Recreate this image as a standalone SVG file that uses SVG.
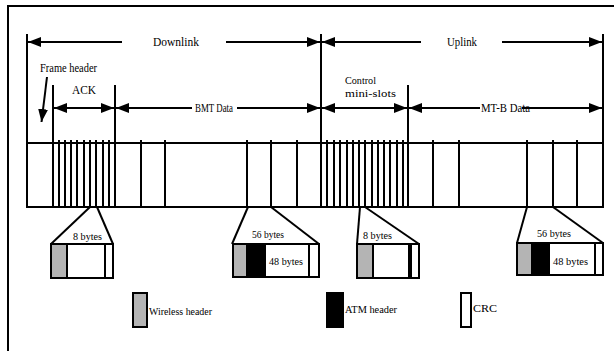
<svg xmlns="http://www.w3.org/2000/svg" width="614" height="351" viewBox="0 0 614 351">
<style>
.ln{stroke:#000;stroke-width:2;fill:none}
.tk{stroke:#000;stroke-width:2}
.bx{stroke:#000;stroke-width:2}
.t{font-family:"Liberation Serif","Times New Roman",serif;fill:#000}
.s12{font-size:12px}
.s11{font-size:11px}
.gray{fill:#b4b4b4}
.blk{fill:#000}
.wht{fill:#fff}
</style>
<defs>
<marker id="ah" markerUnits="userSpaceOnUse" markerWidth="13" markerHeight="10" refX="13" refY="5" orient="auto-start-reverse" viewBox="0 0 13 10">
<path d="M0,0 L13,5 L0,10 z" fill="#000"/>
</marker>
</defs>
<rect x="8" y="6" width="630" height="370" fill="#fff" stroke="#000" stroke-width="2"/>

<g id="frame">
<line class="ln" x1="27" y1="143" x2="603" y2="143"/>
<line class="ln" x1="27" y1="207" x2="603" y2="207"/>
<line class="tk" x1="27" y1="34" x2="27" y2="208"/>
<line class="tk" x1="321" y1="34" x2="321" y2="208"/>
<line class="tk" x1="603" y1="34" x2="603" y2="208"/>
<line class="tk" x1="53" y1="85" x2="53" y2="208"/>
<line class="tk" x1="115" y1="85" x2="115" y2="208"/>
<line class="tk" x1="408" y1="85" x2="408" y2="208"/>
<g class="tk">
<line x1="59" y1="140" x2="59" y2="207"/>
<line x1="65" y1="140" x2="65" y2="207"/>
<line x1="71" y1="140" x2="71" y2="207"/>
<line x1="77" y1="140" x2="77" y2="207"/>
<line x1="84" y1="140" x2="84" y2="207"/>
<line x1="90" y1="140" x2="90" y2="207"/>
<line x1="96" y1="140" x2="96" y2="207"/>
<line x1="103" y1="140" x2="103" y2="207"/>
<line x1="109" y1="140" x2="109" y2="207"/>
<line x1="141" y1="140" x2="141" y2="207"/>
<line x1="165" y1="140" x2="165" y2="207"/>
<line x1="247" y1="140" x2="247" y2="207"/>
<line x1="271" y1="140" x2="271" y2="207"/>
<line x1="297" y1="140" x2="297" y2="207"/>
<line x1="327" y1="140" x2="327" y2="207"/>
<line x1="334" y1="140" x2="334" y2="207"/>
<line x1="340" y1="140" x2="340" y2="207"/>
<line x1="347" y1="140" x2="347" y2="207"/>
<line x1="353" y1="140" x2="353" y2="207"/>
<line x1="359" y1="140" x2="359" y2="207"/>
<line x1="365" y1="140" x2="365" y2="207"/>
<line x1="372" y1="140" x2="372" y2="207"/>
<line x1="378" y1="140" x2="378" y2="207"/>
<line x1="384" y1="140" x2="384" y2="207"/>
<line x1="390" y1="140" x2="390" y2="207"/>
<line x1="397" y1="140" x2="397" y2="207"/>
<line x1="403" y1="140" x2="403" y2="207"/>
<line x1="433" y1="140" x2="433" y2="207"/>
<line x1="459" y1="140" x2="459" y2="207"/>
<line x1="527" y1="140" x2="527" y2="207"/>
<line x1="553" y1="140" x2="553" y2="207"/>
<line x1="577" y1="140" x2="577" y2="207"/>
</g>
</g>

<g id="connectors">
<line class="ln" x1="122" y1="42" x2="28" y2="42" marker-end="url(#ah)"/>
<line class="ln" x1="226" y1="42" x2="320" y2="42" marker-end="url(#ah)"/>
<line class="ln" x1="421" y1="42" x2="322" y2="42" marker-end="url(#ah)"/>
<line class="ln" x1="502" y1="42" x2="602" y2="42" marker-end="url(#ah)"/>
<line class="ln" x1="54" y1="108" x2="114" y2="108" marker-start="url(#ah)" marker-end="url(#ah)"/>
<line class="ln" x1="192" y1="108" x2="116" y2="108" marker-end="url(#ah)"/>
<line class="ln" x1="237" y1="108" x2="320" y2="108" marker-end="url(#ah)"/>
<line class="ln" x1="322" y1="108" x2="407" y2="108" marker-start="url(#ah)" marker-end="url(#ah)"/>
<line class="ln" x1="480" y1="108" x2="409" y2="108" marker-end="url(#ah)"/>
<line class="ln" x1="522" y1="108" x2="602" y2="108" marker-end="url(#ah)"/>
<line class="ln" x1="47" y1="77" x2="41.5" y2="122" marker-end="url(#ah)"/>
<g class="ln">
<line x1="90" y1="207" x2="51" y2="244"/>
<line x1="97" y1="207" x2="113" y2="244"/>
<line x1="248" y1="207" x2="232" y2="244"/>
<line x1="271" y1="207" x2="319" y2="244"/>
<line x1="360" y1="207" x2="357" y2="244"/>
<line x1="365" y1="207" x2="419" y2="244"/>
<line x1="527" y1="207" x2="517" y2="243"/>
<line x1="553" y1="207" x2="603" y2="243"/>
</g>
</g>

<g id="labels">
<text class="t s12" x="153" y="46" textLength="46" lengthAdjust="spacingAndGlyphs">Downlink</text>
<text class="t s12" x="447" y="46" textLength="30" lengthAdjust="spacingAndGlyphs">Uplink</text>
<text class="t s12" x="40" y="72" textLength="57" lengthAdjust="spacingAndGlyphs">Frame header</text>
<text class="t s12" x="72" y="94" textLength="24" lengthAdjust="spacingAndGlyphs">ACK</text>
<text class="t s12" x="195" y="112" textLength="38" lengthAdjust="spacingAndGlyphs">BMT Data</text>
<text class="t s11" x="345" y="84" textLength="31" lengthAdjust="spacingAndGlyphs">Control</text>
<text class="t s11" x="345" y="97" textLength="51" lengthAdjust="spacingAndGlyphs">mini-slots</text>
<text class="t s12" x="481" y="112" textLength="49" lengthAdjust="spacingAndGlyphs">MT-B Data</text>
</g>

<g id="packet-ack">
<rect class="bx wht" x="51" y="244" width="62" height="34"/>
<rect class="bx gray" x="51" y="244" width="16" height="34"/>
<line class="tk" x1="105" y1="244" x2="105" y2="278"/>
<text class="t s11" x="73" y="240" textLength="29" lengthAdjust="spacingAndGlyphs">8 bytes</text>
</g>

<g id="packet-bmt">
<rect class="bx wht" x="233" y="244" width="86" height="33"/>
<rect class="bx gray" x="233" y="244" width="14" height="33"/>
<rect class="bx blk" x="247" y="244" width="18" height="33"/>
<line class="tk" x1="309" y1="244" x2="309" y2="277"/>
<text class="t s11" x="252" y="238" textLength="32" lengthAdjust="spacingAndGlyphs">56 bytes</text>
<text class="t s11" x="269" y="265" textLength="34" lengthAdjust="spacingAndGlyphs">48 bytes</text>
</g>

<g id="packet-ctrl">
<rect class="bx wht" x="357" y="244" width="62" height="34"/>
<rect class="bx gray" x="357" y="244" width="16" height="34"/>
<rect class="blk" x="408" y="244" width="4" height="34"/>
<text class="t s11" x="363" y="239" textLength="29" lengthAdjust="spacingAndGlyphs">8 bytes</text>
</g>

<g id="packet-mtb">
<rect class="bx wht" x="517" y="243" width="86" height="32"/>
<rect class="bx gray" x="517" y="243" width="15" height="32"/>
<rect class="bx blk" x="532" y="243" width="17" height="32"/>
<line class="tk" x1="595" y1="243" x2="595" y2="275"/>
<text class="t s11" x="537" y="237" textLength="34" lengthAdjust="spacingAndGlyphs">56 bytes</text>
<text class="t s11" x="553" y="265" textLength="35" lengthAdjust="spacingAndGlyphs">48 bytes</text>
</g>

<g id="legend-wireless">
<rect class="bx gray" x="133" y="293" width="14" height="34"/>
<text class="t s11" x="149" y="315" textLength="63" lengthAdjust="spacingAndGlyphs">Wireless header</text>
</g>
<g id="legend-atm">
<rect class="bx blk" x="327" y="293" width="16" height="34"/>
<text class="t s11" x="345" y="313" textLength="52" lengthAdjust="spacingAndGlyphs">ATM header</text>
</g>
<g id="legend-crc">
<rect class="bx wht" x="461" y="293" width="10" height="34"/>
<text class="t s11" x="473" y="312" textLength="24" lengthAdjust="spacingAndGlyphs">CRC</text>
</g>
</svg>
